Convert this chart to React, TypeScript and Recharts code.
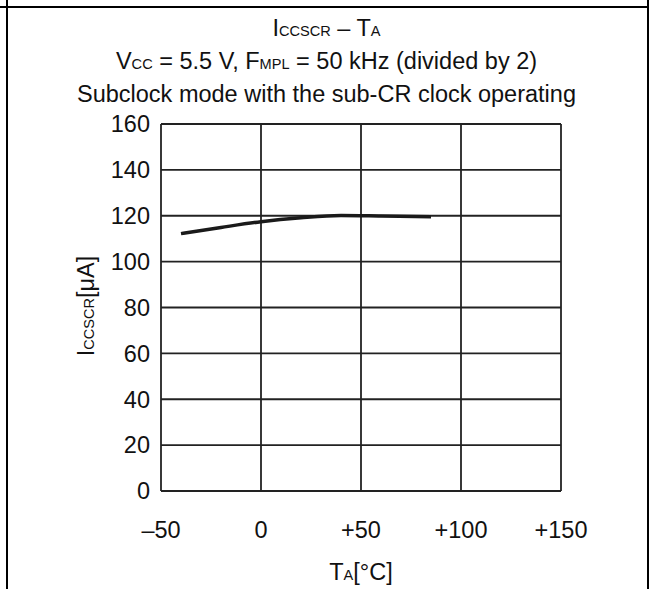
import { CartesianGrid, Line, LineChart, XAxis, YAxis } from "recharts";

const FONT = '"Liberation Sans", Arial, Helvetica, sans-serif';
const INK = "#111";
const FS = 23.5;

// ambient temperature (°C) vs supply current (µA)
const temps = [-40, -20, 0, 20, 40, 60, 85];
const currents = [112.2, 114.9, 117.4, 119.1, 120.1, 119.9, 119.6];

const xTicks = [-50, 0, 50, 100, 150];
const yTicks = [0, 20, 40, 60, 80, 100, 120, 140, 160];

const data = temps.map((t, i) => ({ t, i: currents[i] }));

const fmtX = (v: number) => (v < 0 ? `–${Math.abs(v)}` : v > 0 ? `+${v}` : "0");

// small uppercase subscript, sits on the baseline like the datasheet
function Sm({ children }: { children: string }) {
  return <span style={{ fontSize: "0.62em", lineHeight: 0 }}>{children}</span>;
}

export default function App() {
  return (
    <div
      style={{
        position: "absolute",
        left: 0,
        top: 0,
        width: 650,
        height: 589,
        background: "#fff",
        fontFamily: FONT,
        color: INK,
      }}
    >
      {/* table frame */}
      <div style={{ position: "absolute", left: 0, top: 6, width: 649, height: 2, background: "#000" }} />
      <div style={{ position: "absolute", left: 6, top: 0, width: 2, height: 589, background: "#000" }} />
      <div style={{ position: "absolute", left: 647, top: 0, width: 2, height: 589, background: "#000" }} />

      <div
        style={{
          position: "absolute",
          left: 0,
          top: 12,
          width: 653,
          textAlign: "center",
          fontSize: FS,
          lineHeight: "33px",
          whiteSpace: "nowrap",
        }}
      >
        <div>
          I<Sm>CCSCR</Sm> – T<Sm>A</Sm>
        </div>
        <div>
          V<Sm>CC</Sm> = 5.5 V, F<Sm>MPL</Sm> = 50 kHz (divided by 2)
        </div>
        <div>Subclock mode with the sub-CR clock operating</div>
      </div>

      <div style={{ position: "absolute", left: 0, top: 0 }}>
        <LineChart
          width={650}
          height={589}
          data={data}
          margin={{ top: 124, right: 89, bottom: 58, left: 111 }}
        >
          <CartesianGrid stroke="#222" strokeWidth={1.8} fill="none" />
          <XAxis
            dataKey="t"
            type="number"
            domain={[-50, 150]}
            ticks={xTicks}
            tickFormatter={fmtX}
            axisLine={false}
            tickLine={false}
            tickSize={0}
            tickMargin={30}
            height={40}
            fontSize={FS}
            tick={{ fontSize: FS, fill: INK, fontFamily: FONT }}
          />
          <YAxis
            type="number"
            domain={[0, 160]}
            ticks={yTicks}
            axisLine={false}
            tickLine={false}
            tickSize={0}
            tickMargin={11}
            width={50}
            fontSize={FS}
            tick={{ fontSize: FS, fill: INK, fontFamily: FONT }}
          />
          <Line
            dataKey="i"
            type="monotone"
            stroke="#1a1a1a"
            strokeWidth={3.5}
            dot={false}
            isAnimationActive={false}
          />
        </LineChart>
      </div>

      <div
        style={{
          position: "absolute",
          left: 86,
          top: 306,
          transform: "translate(-50%, -50%) rotate(-90deg)",
          fontSize: FS,
          whiteSpace: "nowrap",
          lineHeight: "26px",
        }}
      >
        I<Sm>CCSCR</Sm>[μA]
      </div>
      <div
        style={{
          position: "absolute",
          left: 361,
          top: 572,
          transform: "translate(-50%, -50%)",
          fontSize: FS,
          whiteSpace: "nowrap",
          lineHeight: "26px",
        }}
      >
        T<Sm>A</Sm>[°C]
      </div>
    </div>
  );
}
